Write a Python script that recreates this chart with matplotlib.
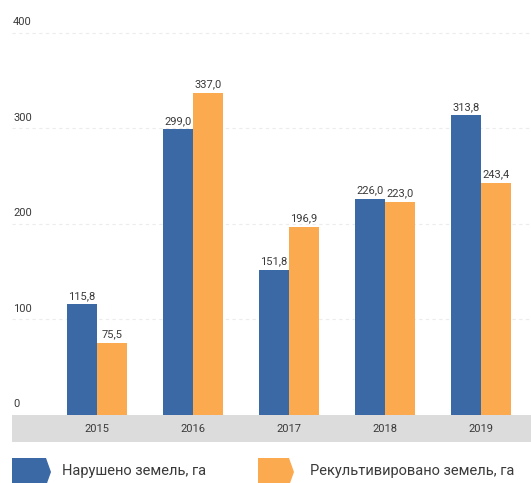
import matplotlib
matplotlib.use("Agg")
import matplotlib.pyplot as plt
import matplotlib.transforms as mtransforms
from matplotlib.patches import Polygon, Rectangle
import numpy as np

years = ["2015", "2016", "2017", "2018", "2019"]
disturbed = [115.8, 299.0, 151.8, 226.0, 313.8]
reclaimed = [75.5, 337.0, 196.9, 223.0, 243.4]
yticks = [0, 100, 200, 300, 400]
series_names = ["Нарушено земель, га", "Рекультивировано земель, га"]

BLUE = "#3b69a5"
ORANGE = "#fcaa50"
TEXT = "#3a3a3a"
FONT = ["Roboto", "DejaVu Sans"]
plt.rcParams['font.family'] = FONT

W, H = 531, 483
fig = plt.figure(figsize=(W / 100, H / 100), dpi=100)
fig.patch.set_facecolor("white")

ax_left, ax_right = 12, 531
ax_bottom_px = 415
ax = fig.add_axes([ax_left / W, (H - ax_bottom_px) / H, (ax_right - ax_left) / W, ax_bottom_px / H])
ax.set_facecolor("none")

spacing = 96.0
first_center = 85.0
xlo = -first_center / spacing
xhi = (ax_right - ax_left - first_center) / spacing
ax.set_xlim(xlo, xhi)
ax.set_ylim(0, 434.5)

x = np.arange(len(years))
bw = 30 / spacing
ax.bar(x - bw / 2, disturbed, width=bw, color=BLUE, zorder=3)
ax.bar(x + bw / 2, reclaimed, width=bw, color=ORANGE, zorder=3)

def fmt(v):
    return f"{v:.1f}".replace(".", ",")

for xi, v in zip(x, disturbed):
    ax.annotate(fmt(v), (xi - bw / 2, v), xytext=(0, 2.5), textcoords="offset points",
                ha="center", va="bottom", fontsize=8, color=TEXT, zorder=4)
for xi, v in zip(x, reclaimed):
    ax.annotate(fmt(v), (xi + bw / 2, v), xytext=(0, 2.5), textcoords="offset points",
                ha="center", va="bottom", fontsize=8, color=TEXT, zorder=4)

ytr = mtransforms.blended_transform_factory(ax.transAxes, ax.transData)
for t in yticks:
    if t > 0:
        ax.axhline(t, color="#ececec", lw=0.8, ls=(0, (3, 3)), zorder=1)
    ax.annotate(str(t), (0.002, t), xycoords=ytr, xytext=(0, 4), textcoords="offset points",
                ha="left", va="bottom", fontsize=8, color=TEXT)

for s in ax.spines.values():
    s.set_visible(False)
ax.set_xticks([])
ax.set_yticks([])

band_h = 27 / ax_bottom_px
ax.add_patch(Rectangle((0, -band_h), 1, band_h, transform=ax.transAxes,
                       facecolor="#dcdcdc", edgecolor="none", clip_on=False, zorder=2))
xtr = mtransforms.blended_transform_factory(ax.transData, ax.transAxes)
for xi, lab in zip(x, years):
    ax.text(xi, -band_h / 2, lab, transform=xtr, ha="center", va="center",
            fontsize=8, color=TEXT, clip_on=False)

def px(xp, yp):
    return (xp / W, (H - yp) / H)

def arrow_patch(x0, x1, y0, y1, color):
    pts = [px(x0, y0), px(x1 - 5, y0), px(x1, (y0 + y1) / 2), px(x1 - 5, y1), px(x0, y1)]
    fig.patches.append(Polygon(pts, closed=True, transform=fig.transFigure,
                               facecolor=color, edgecolor="none"))

arrow_patch(12, 51, 458, 486, BLUE)
arrow_patch(258, 294, 458, 486, ORANGE)
fig.text(*px(62, 471), series_names[0], ha="left", va="center", fontsize=10.5, color=TEXT)
fig.text(*px(310, 471), series_names[1], ha="left", va="center", fontsize=10.5, color=TEXT)

fig.savefig("out.png", dpi=100)
